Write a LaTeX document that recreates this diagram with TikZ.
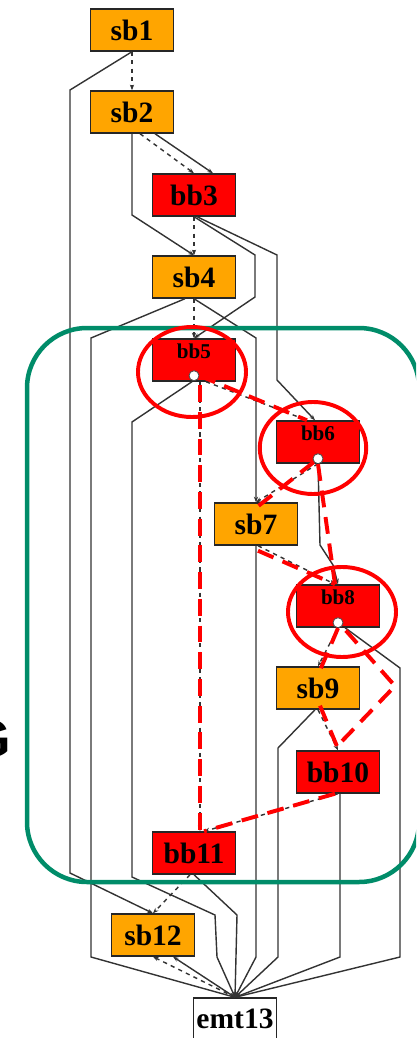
\documentclass[tikz,border=0pt]{standalone}
\usepackage{fontspec}
\setmainfont{Liberation Serif}
\newfontfamily\bigsans{Liberation Sans}
\usetikzlibrary{calc,arrows.meta}
\definecolor{sbcol}{RGB}{255,165,0}
\definecolor{bbcol}{RGB}{255,0,0}
\definecolor{loopcol}{RGB}{0,140,105}
\tikzset{
	blk/.style={draw=black!85, line width=1pt, minimum width=2.075cm, minimum height=1.05cm, inner sep=0pt, font=\bfseries\fontsize{21}{21}\selectfont},
	sb/.style={blk, fill=sbcol},
	bb/.style={blk, fill=bbcol},
	hot/.style={bb, font=\bfseries\fontsize{15}{15}\selectfont, text height=0.35cm, text depth=0.41cm},
	emt/.style={blk, fill=white},
	flow/.style={draw=black!80, line width=1pt, -{Stealth[length=4pt,width=3pt]}},
	ctrl/.style={flow, dashed},
	redtrace/.style={draw=red, line width=2.8pt, dash pattern=on 12pt off 7pt},
	ring/.style={draw=red, line width=2.8pt},
	hole/.style={circle, draw=black!70, line width=0.6pt, fill=white, inner sep=0pt, minimum size=0.25cm}
}

\begin{document}
\begin{tikzpicture}[x=0.025cm, y=-0.025cm]
	\useasboundingbox (0,0) rectangle (416,1038);
	\clip (0,0) rectangle (416,1038);

	\node[sb] (sb1) at (132,30) {sb1};
	\node[sb] (sb2) at (132,112) {sb2};
	\node[bb] (bb3) at (194,195) {bb3};
	\node[sb] (sb4) at (194,277) {sb4};
	\node[hot] (bb5) at (194,360) {bb5};
	\node[hot] (bb6) at (318,442) {bb6};
	\node[sb] (sb7) at (256,524) {sb7};
	\node[hot] (bb8) at (338,606) {bb8};
	\node[sb] (sb9) at (318,688) {sb9};
	\node[bb] (bb10) at (338,772) {bb10};
	\node[bb] (bb11) at (194,853) {bb11};
	\node[sb] (sb12) at (153,935) {sb12};
	\node[emt] (emt13) at (235,1019) {emt13};
	\node[hole] (d5) at ($(bb5.south)+(0,-6)$) {};
	\node[hole] (d6) at ($(bb6.south)+(0,-5)$) {};
	\node[hole] (d8) at ($(bb8.south)+(0,-5)$) {};

	\draw[ctrl] (sb1) -- (sb2);
	\draw[flow] (sb1.south) -- (70,90) -- (70,873) -- (sb12.north);
	\draw[ctrl] ($(sb2.south)+(8,0)$) -- (bb3.north);
	\draw[flow] ($(sb2.south)+(23,0)$) -- ($(bb3.north)+(19,0)$);
	\draw[flow] (sb2.south) -- (132,215) -- (sb4.north);
	\draw[ctrl] (bb3) -- (sb4);
	\draw[flow] (bb3.south) -- (255,255) -- (255,297) -- (bb5.north);
	\draw[flow] ($(bb3.south)+(3,0)$) -- (277,255) -- (277,380) -- ($(bb6.north)+(-3,0)$);
	\draw[ctrl] (sb4) -- (bb5);
	\draw[flow] (sb4.south) -- (256,338) -- (sb7.north);
	\draw[flow] ($(sb4.south)+(-9,0)$) -- (91,338) -- (91,957) -- (emt13.north);
	\draw[flow] ($(bb5.south)+(-2,0)$) -- (132,422) -- (132,877) -- (215,915) -- (217,957) -- (emt13.north);
	\draw[ctrl] ($(bb5.south)+(6,0)$) -- ($(bb11.north)+(6,0)$);
	\draw[ctrl] ($(bb5.south)+(12,0)$) -- ($(bb6.north)+(-11,0)$);
	\draw[flow] (bb6.south) -- (320,545) -- (333,565) -- (bb8.north);
	\draw[ctrl] (bb6.south) -- (sb7.north);
	\draw[flow] (sb7.south) -- (256,957) -- (emt13.north);
	\draw[ctrl] ($(sb7.south)+(2,0)$) -- ($(bb8.north)+(-3,0)$);
	\draw[flow] ($(bb8.south)+(7,0)$) -- (400,668) -- (400,957) -- (emt13.north);
	\draw[ctrl] (bb8.south) -- (sb9.north);
	\draw[flow] ($(sb9.south)+(-3,0)$) -- (278,748) -- (278,957) -- (emt13.north);
	\draw[ctrl] (sb9.south) -- (bb10.north);
	\draw[flow] ($(bb10.south)+(2,0)$) -- (340,957) -- (emt13.north);
	\draw[ctrl] (bb10.south) -- ($(bb11.north)+(10,0)$);
	\draw[flow] (bb11.south) -- (237,915) -- (emt13.north);
	\draw[ctrl] ($(bb11.south)+(-4,0)$) -- (sb12.north);
	\draw[ctrl] (emt13.north) -- (sb12.south);
	\draw[flow] (emt13.north) -- ($(sb12.south)+(20,0)$);

	\draw[loopcol, line width=3.2pt, rounded corners=1.5cm] (27,328) rectangle (419,882);
	\node[anchor=east, inner sep=0pt, font=\bigsans\bfseries\fontsize{38}{38}\selectfont] (g) at (11,739) {G};

	\draw[ring] (192,372) ellipse (1.35cm and 1.125cm);
	\draw[ring] (313,448) ellipse (1.33cm and 1.15cm);
	\draw[ring] (342,612) ellipse (1.35cm and 1.125cm);
	\draw[redtrace] ($(d5.south)+(6,4)$) -- ($(bb11.north)+(6,0)$);
	\draw[redtrace] (d5.east) -- ($(bb6.north)+(-11,0)$);
	\draw[redtrace] (d6) -- ($(sb7.north)+(2,4)$);
	\draw[redtrace] (d6.south) -- ($(bb8.north)+(-3,0)$);
	\draw[redtrace] ($(sb7.south)+(2,5)$) -- ($(bb8.north)+(-3,0)$);
	\draw[redtrace] (d8.south) -- ($(sb9.north)+(2,4)$);
	\draw[redtrace] ($(sb9.south)+(2,-4)$) -- ($(bb10.north)+(-1,-4)$);
	\draw[redtrace] ($(d8.south east)+(4,4)$) -- (395,686) -- ($(bb10.north)+(-1,-4)$);
	\draw[redtrace] ($(bb10.south)+(-3,0)$) -- ($(bb11.north)+(10,0)$);
\end{tikzpicture}
\end{document}
